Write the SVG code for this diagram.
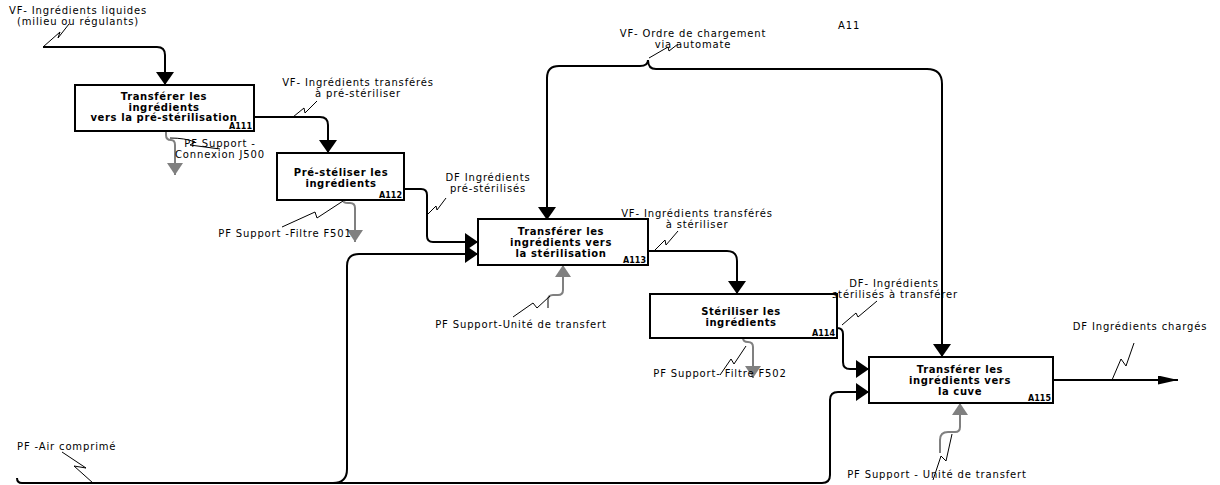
<svg xmlns="http://www.w3.org/2000/svg" width="1220" height="485" viewBox="0 0 1220 485">
<style>
  .box{fill:#fff;stroke:#000;stroke-width:2}
  .bt{font-family:"DejaVu Sans",Verdana,sans-serif;font-weight:bold;font-size:10px;letter-spacing:0.6px;text-anchor:middle;fill:#000}
  .id{font-family:"DejaVu Sans",Verdana,sans-serif;font-weight:bold;font-size:8px;text-anchor:end;fill:#000}
  .lb{font-family:"DejaVu Sans",Verdana,sans-serif;font-size:10px;letter-spacing:0.85px;fill:#000}
  .m{text-anchor:middle}
  .c{fill:none;stroke:#000;stroke-width:2}
  .g{fill:none;stroke:#808080;stroke-width:2}
  .s{fill:none;stroke:#000;stroke-width:1}
</style>
<defs>
  <marker id="ah" markerUnits="userSpaceOnUse" markerWidth="14" markerHeight="18" refX="13" refY="9" orient="auto"><path d="M0,0 L13,9 L0,18 z" fill="#000"/></marker>
  <marker id="ag" markerUnits="userSpaceOnUse" markerWidth="13" markerHeight="16" refX="12" refY="8" orient="auto"><path d="M0,0 L12,8 L0,16 z" fill="#808080"/></marker>
  <marker id="ao" markerUnits="userSpaceOnUse" markerWidth="21" markerHeight="9" refX="20" refY="4.5" orient="auto"><path d="M0,0 L20,4.5 L0,9 z" fill="#000"/></marker>
</defs>

<g id="connectors">
  <path class="c" d="M43,47 H157 Q165,47 165,55 V85" marker-end="url(#ah)"/>
  <path class="c" d="M254,117 H320 Q328,117 328,125 V153" marker-end="url(#ah)"/>
  <path class="c" d="M404,189 H421 Q427,189 427,195 V236 Q427,242 433,242 H478" marker-end="url(#ah)"/>
  <path class="c" d="M333,483 Q347,483 347,469 V266 Q347,254 359,254 H478" marker-end="url(#ah)"/>
  <path class="c" d="M17,478 Q17,483 22,483 H822 Q830,483 830,475 V400 Q830,392 838,392 H869" marker-end="url(#ah)"/>
  <path class="c" d="M648,60 Q648,66 640,66 H559 Q547,66 547,78 V220" marker-end="url(#ah)"/>
  <path class="c" d="M648,60 Q648,69 656,69 H927 Q942,69 942,84 V357" marker-end="url(#ah)"/>
  <path class="c" d="M648,251 H727 Q737,251 737,261 V294" marker-end="url(#ah)"/>
  <path class="c" d="M837,328 Q843,328 843,334 V362 Q843,369 850,369 H869" marker-end="url(#ah)"/>
  <path class="c" d="M1053,380 H1178" stroke-width="1.5" marker-end="url(#ao)"/>

  <path class="g" d="M166,131 V135 Q166,140 171,140 Q175,140 175,145 V175" marker-end="url(#ag)"/>
  <path class="g" d="M343,200 Q343,203 348,203 H350 Q355,203 355,208 V242" marker-end="url(#ag)"/>
  <path class="g" d="M548,308 V300 Q548,295 553,295 H558 Q563,295 563,290 V265" marker-end="url(#ag)"/>
  <path class="g" d="M743,338 Q743,342 748,342 Q753,342 753,347 V378" marker-end="url(#ag)"/>
  <path class="g" d="M940,453 V440 Q940,432 948,432 H955 Q960,432 960,427 V403" marker-end="url(#ag)"/>

  <path class="s" d="M43,47 L60,32 L58,38 L69,24"/>
  <path class="s" d="M293,117 L304,108 L305,113 L317,101"/>
  <path class="s" d="M427,215 L436,206 L437,210 L446,198"/>
  <path class="s" d="M649,58 L668,47 L669,51 L678,44"/>
  <path class="s" d="M654,251 L665,240 L666,245 L678,231"/>
  <path class="s" d="M842,325 L856,313 L858,317 L877,301"/>
  <path class="s" d="M1112,380 L1121,359 L1126,366 L1134,343"/>
  <path class="s" d="M170,138 Q185,138 195,142 L190,145 L220,149"/>
  <path class="s" d="M282,227 L315,212 L317,218 L343,201"/>
  <path class="s" d="M513,317 L533,303 L537,308 L550,296"/>
  <path class="s" d="M720,375 L731,359 L734,364 L746,346"/>
  <path class="s" d="M933,480 L941,456 L946,461 L952,434"/>
  <path class="s" d="M62,452 L86,468 L74,466 L93,483"/>
</g>

<g id="A111">
  <rect class="box" x="75" y="85" width="179" height="46"/>
  <text class="bt" x="164" y="100">Transférer les</text>
  <text class="bt" x="164" y="110.5">ingrédients</text>
  <text class="bt" x="164" y="121">vers la pré-stérilisation</text>
  <text class="id" x="252" y="129">A111</text>
</g>
<g id="A112">
  <rect class="box" x="277" y="153" width="127" height="47"/>
  <text class="bt" x="341" y="176">Pré-stéliser les</text>
  <text class="bt" x="341" y="186.5">ingrédients</text>
  <text class="id" x="402" y="198">A112</text>
</g>
<g id="A113">
  <rect class="box" x="478" y="219" width="170" height="46"/>
  <text class="bt" x="561" y="235">Transférer les</text>
  <text class="bt" x="561" y="246">ingrédients vers</text>
  <text class="bt" x="561" y="257">la stérilisation</text>
  <text class="id" x="646" y="263">A113</text>
</g>
<g id="A114">
  <rect class="box" x="650" y="294" width="187" height="44"/>
  <text class="bt" x="741" y="315">Stériliser les</text>
  <text class="bt" x="741" y="326">ingrédients</text>
  <text class="id" x="835" y="336">A114</text>
</g>
<g id="A115">
  <rect class="box" x="869" y="357" width="184" height="46"/>
  <text class="bt" x="960" y="373">Transférer les</text>
  <text class="bt" x="960" y="384">ingrédients vers</text>
  <text class="bt" x="960" y="395">la cuve</text>
  <text class="id" x="1051" y="401">A115</text>
</g>

<g id="labels">
  <text class="lb m" x="78" y="14">VF- Ingrédients liquides</text>
  <text class="lb m" x="78" y="25">(milieu ou régulants)</text>
  <text class="lb m" x="358" y="86">VF- Ingrédients transférés</text>
  <text class="lb m" x="358" y="97">à pré-stériliser</text>
  <text class="lb m" x="488" y="181">DF Ingrédients</text>
  <text class="lb m" x="488" y="192">pré-stérilisés</text>
  <text class="lb m" x="693" y="37">VF- Ordre de chargement</text>
  <text class="lb m" x="693" y="48">via automate</text>
  <text class="lb m" x="697" y="217">VF- Ingrédients transférés</text>
  <text class="lb m" x="697" y="228">à stériliser</text>
  <text class="lb m" x="894" y="287">DF- Ingrédients</text>
  <text class="lb m" x="895" y="298">stérilisés à transférer</text>
  <text class="lb m" x="1140" y="330">DF Ingrédients chargés</text>
  <text class="lb m" x="220" y="147">PF Support -</text>
  <text class="lb m" x="220" y="158">Connexion J500</text>
  <text class="lb m" x="285" y="237">PF Support -Filtre F501</text>
  <text class="lb m" x="521" y="328">PF Support-Unité de transfert</text>
  <text class="lb m" x="720" y="377">PF Support- Filtre F502</text>
  <text class="lb m" x="937" y="478">PF Support - Unité de transfert</text>
  <text class="lb" x="17" y="450">PF -Air comprimé</text>
  <text class="lb" x="838" y="29">A11</text>
</g>
</svg>
